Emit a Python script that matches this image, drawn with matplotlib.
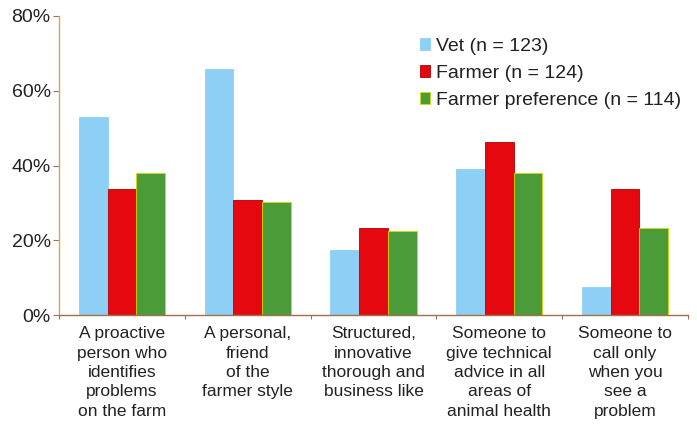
import matplotlib.pyplot as plt
import numpy as np

plt.rcParams["font.family"] = ["Liberation Sans", "DejaVu Sans"]

categories = [
    "A proactive\nperson who\nidentifies\nproblems\non the farm",
    "A personal,\nfriend\nof the\nfarmer style",
    "Structured,\ninnovative\nthorough and\nbusiness like",
    "Someone to\ngive technical\nadvice in all\nareas of\nanimal health",
    "Someone to\ncall only\nwhen you\nsee a\nproblem",
]
series_names = ["Vet (n = 123)", "Farmer (n = 124)", "Farmer preference (n = 114)"]
vet = [52.9, 65.8, 17.4, 39.0, 7.4]
farmer = [33.7, 30.9, 23.2, 46.3, 33.6]
farmer_pref = [37.9, 30.2, 22.5, 38.1, 23.2]

colors = ["#8ecff5", "#e5090f", "#4b9b39"]
edges = ["#8ecff5", "#b00000", "#d8d800"]

fig = plt.figure(figsize=(6.97, 4.30), dpi=100)
ax = fig.add_axes([0.0847, 0.2674, 0.9023, 0.6954])

x = np.arange(len(categories))
w = 0.228
for i, (vals, c, ec, name) in enumerate(zip([vet, farmer, farmer_pref], colors, edges, series_names)):
    ax.bar(x + (i - 1) * w, vals, width=w, color=c, edgecolor=ec, linewidth=0.6, label=name)

ax.set_xlim(-0.5, 4.5)
ax.set_ylim(0, 80)
ax.set_yticks([0, 20, 40, 60, 80])
ax.set_yticklabels(["0%", "20%", "40%", "60%", "80%"], fontsize=14, color="#222222")
ax.set_xticks(x)
ax.set_xticklabels(categories, fontsize=12.5, color="#222222", linespacing=1.37, va="top")
ax.tick_params(axis="x", length=0, pad=8)
ax.set_xticks(np.arange(-0.5, 5.0, 1.0), minor=True)
ax.tick_params(axis="x", which="minor", length=3, color="#a07050", width=0.8)
ax.tick_params(axis="y", length=4, color="#a07050", width=0.8, pad=2)

for s in ["top", "right"]:
    ax.spines[s].set_visible(False)
ax.spines["left"].set_color("#e0a050")
ax.spines["bottom"].set_color("#a07050")
ax.spines["left"].set_linewidth(1.0)
ax.spines["bottom"].set_linewidth(1.0)

ax.legend(loc="upper left", bbox_to_anchor=(0.555, 0.965), frameon=False, fontsize=14,
          handlelength=0.55, handleheight=0.55, handletextpad=0.3, labelspacing=0.5,
          labelcolor="#222222", borderaxespad=0.2)

fig.savefig("out.png", dpi=100)
